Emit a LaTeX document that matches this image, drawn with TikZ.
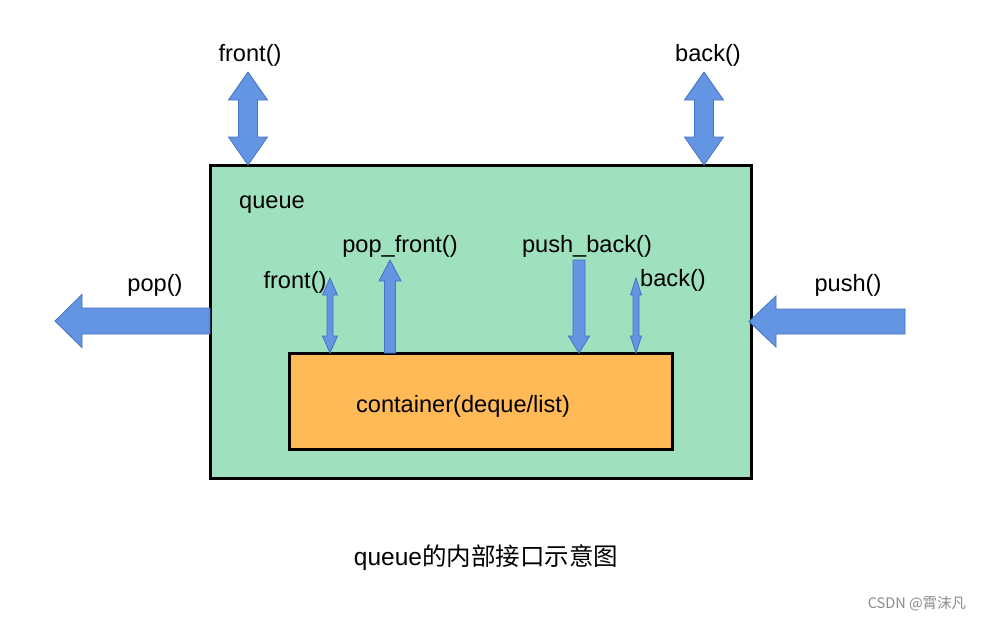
\documentclass[tikz,border=0pt]{standalone}
\usepackage{fontspec}
\setmainfont{Liberation Sans}
\newfontfamily\cjk{Noto Sans CJK SC}
\definecolor{qgreen}{RGB}{159,224,191}
\definecolor{corange}{RGB}{255,185,87}
\definecolor{afill}{RGB}{99,149,226}
\definecolor{aline}{RGB}{68,114,196}
\tikzset{
  blk/.style={fill=afill,draw=aline,line width=0.8pt,line join=miter},
  lbl/.style={inner sep=0pt,font=\fontsize{23.6}{28}\selectfont},
  boxq/.style={draw=black,line width=3pt,fill=qgreen},
  boxc/.style={draw=black,line width=3pt,fill=corange},
}
% double vertical arrow: x, ytop, ybot, shaft half, head half, head length
\newcommand\dblvarrow[6]{\draw[blk] (#1,#2) -- (#1+#5,#2+#6) -- (#1+#4,#2+#6) -- (#1+#4,#3-#6) -- (#1+#5,#3-#6) -- (#1,#3) -- (#1-#5,#3-#6) -- (#1-#4,#3-#6) -- (#1-#4,#2+#6) -- (#1-#5,#2+#6) -- cycle;}
% up arrow: x, tip y, tail y, ...
\newcommand\uparr[6]{\draw[blk] (#1,#2) -- (#1+#5,#2+#6) -- (#1+#4,#2+#6) -- (#1+#4,#3) -- (#1-#4,#3) -- (#1-#4,#2+#6) -- (#1-#5,#2+#6) -- cycle;}
% down arrow: x, tail y, tip y, ...
\newcommand\downarr[6]{\draw[blk] (#1,#3) -- (#1+#5,#3-#6) -- (#1+#4,#3-#6) -- (#1+#4,#2) -- (#1-#4,#2) -- (#1-#4,#3-#6) -- (#1-#5,#3-#6) -- cycle;}
% left arrow: y, tip x, tail x, ...
\newcommand\leftarr[6]{\draw[blk] (#2,#1) -- (#2+#6,#1-#5) -- (#2+#6,#1-#4) -- (#3,#1-#4) -- (#3,#1+#4) -- (#2+#6,#1+#4) -- (#2+#6,#1+#5) -- cycle;}
\begin{document}
\begin{tikzpicture}[x=1pt,y=-1pt]
\useasboundingbox[fill=white] (0,0) rectangle (982,619);
% boxes
\draw[boxq] (210,165) rectangle (751,478);
\draw[boxc] (289,353) rectangle (672,449);
% outer arrows
\dblvarrow{248}{72}{165}{9.5}{19.5}{28}
\dblvarrow{704}{72}{165}{9.5}{19.5}{28}
\leftarr{321}{55}{210}{13}{26.5}{27}
\leftarr{321.5}{749}{905}{12.5}{25.5}{27}
% inner arrows
\dblvarrow{330}{278}{353}{3}{7.5}{17}
\uparr{390}{260}{353}{5.5}{11}{21}
\downarr{579}{260}{353}{6}{10.5}{17}
\dblvarrow{636}{278}{353}{3}{5.5}{17}
% labels
\node[lbl] (lfront) at (250,55) {front()};
\node[lbl] (lback) at (708,55) {back()};
\node[lbl] (lpop) at (155,285) {pop()};
\node[lbl] (lpush) at (848,285) {push()};
\node[lbl,anchor=west] (lqueue) at (239,205) {queue};
\node[lbl] (lpopf) at (400,246) {pop\_front()};
\node[lbl] (lifront) at (295,282) {front()};
\node[lbl] (lpushb) at (587,246) {push\_back()};
\node[lbl] (liback) at (673,280) {back()};
\node[lbl] (lcont) at (463,406) {container(deque/list)};
\node[inner sep=0pt,font=\fontsize{24.5}{29}\selectfont] (cap) at (486,558) {queue{\cjk 的内部接口示意图}};
\node[inner sep=0pt,font=\cjk\fontsize{14.5}{17}\selectfont,text=black!45] (wm) at (917,604) {CSDN @霄沫凡};
\end{tikzpicture}
\end{document}
